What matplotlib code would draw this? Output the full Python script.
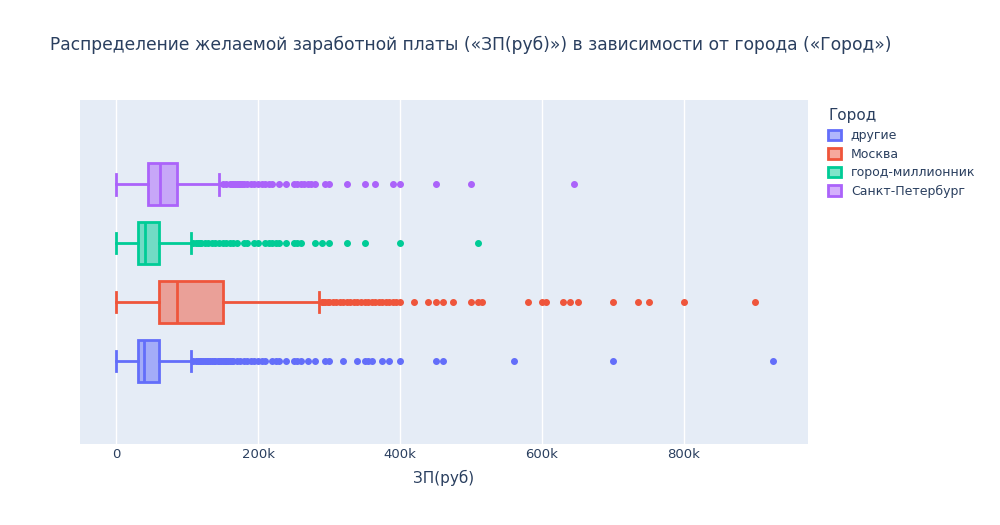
import matplotlib.pyplot as plt
from matplotlib.patches import Patch

cities = ["другие", "Москва", "город-миллионник", "Санкт-Петербург"]
colors = ["#636efa", "#EF553B", "#00cc96", "#ab63fa"]

# box stats in thousands of rub
w_low = [0, 0, 0, 0]
q1 = [31, 60, 31, 45]
med = [40, 86, 41, 62]
q3 = [60, 150, 60, 86]
w_high = [105, 286, 105, 145]

outliers = [
    [108, 112, 115, 118, 120, 122, 125, 128, 130, 132, 135, 138, 140, 143, 145, 148, 150, 153, 155, 158,
     160, 163, 165, 170, 175, 180, 185, 190, 195, 200, 205, 210, 220, 225, 230, 240, 250, 255, 260,
     270, 280, 295, 300, 320, 340, 350, 355, 360, 375, 385, 400, 450, 460, 560, 700, 925],
    [290, 292, 295, 298, 300, 305, 310, 315, 320, 325, 330, 335, 340, 345, 350, 355, 360, 365, 370,
     375, 380, 385, 390, 395, 400, 420, 440, 450, 460, 475, 500, 510, 515, 580, 600, 605, 630, 640,
     650, 700, 735, 750, 800, 900],
    [108, 112, 115, 118, 120, 125, 130, 135, 140, 145, 150, 155, 160, 165, 170, 180, 185, 195, 200,
     210, 215, 220, 225, 230, 240, 250, 255, 260, 280, 290, 300, 325, 350, 400, 510],
    [150, 155, 160, 163, 165, 168, 170, 173, 175, 178, 180, 185, 190, 195, 200, 205, 210, 215, 220,
     230, 240, 250, 255, 260, 265, 270, 275, 280, 295, 300, 325, 350, 365, 390, 400, 450, 500, 645],
]

fig = plt.figure(figsize=(10, 5.25), dpi=100)
ax = fig.add_axes([0.08, 0.154, 0.728, 0.655])
ax.set_facecolor("#E5ECF6")
for s in ax.spines.values():
    s.set_visible(False)

h = 0.71
for i, c in enumerate(colors):
    ax.bxp([{"whislo": w_low[i], "q1": q1[i], "med": med[i], "q3": q3[i],
             "whishi": w_high[i], "fliers": outliers[i]}],
           positions=[i], vert=False, widths=h, patch_artist=True,
           showcaps=False, manage_ticks=False,
           boxprops=dict(facecolor=c + "80", edgecolor=c, linewidth=2),
           medianprops=dict(color=c, linewidth=2),
           whiskerprops=dict(color=c, linewidth=2),
           flierprops=dict(marker="o", markerfacecolor=c, markeredgecolor=c, markersize=4))
    ax.plot([w_low[i]] * 2, [i - h / 4, i + h / 4], color=c, lw=2)
    ax.plot([w_high[i]] * 2, [i - h / 4, i + h / 4], color=c, lw=2)

ax.set_xlim(-50.7, 974.6)
ax.set_ylim(-1.41, 4.42)
ax.set_yticks([])
ax.set_xticks([0, 200, 400, 600, 800])
ax.set_xticklabels(["0", "200k", "400k", "600k", "800k"])
ax.tick_params(axis="x", length=0, colors="#2a3f5f", labelsize=9.5, pad=3)
ax.grid(axis="x", color="white", lw=1)
ax.set_axisbelow(True)
ax.set_xlabel("ЗП(руб)", color="#2a3f5f", fontsize=11, labelpad=6)

fig.text(0.05, 0.905, "Распределение желаемой заработной платы («ЗП(руб)») в зависимости от города («Город»)",
         fontsize=12.3, color="#2a3f5f")

handles = [Patch(facecolor=c + "80", edgecolor=c, linewidth=2, label=l) for c, l in zip(colors, cities)]
leg = fig.legend(handles=handles, title="Город", loc="upper left", bbox_to_anchor=(0.817, 0.815),
                 frameon=False, fontsize=9, title_fontsize=11, labelcolor="#2a3f5f",
                 handlelength=1.0, handleheight=0.9, labelspacing=0.45)
leg.get_title().set_color("#2a3f5f")
leg._legend_box.align = "left"

fig.savefig("out.png")
